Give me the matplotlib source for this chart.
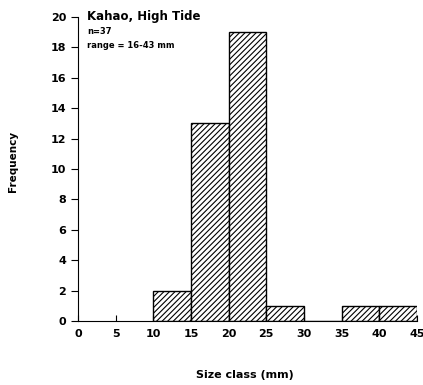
import numpy as np
import matplotlib.pyplot as plt

# size class bins (mm) and counts
bin_left = [10, 15, 20, 25, 30, 35, 40]
counts = [2, 13, 19, 1, 0, 1, 1]
bin_width = 5
xticks = [0, 5, 10, 15, 20, 25, 30, 35, 40, 45]
yticks = [0, 2, 4, 6, 8, 10, 12, 14, 16, 18, 20]

plt.rcParams['font.family'] = 'DejaVu Sans'
plt.rcParams['font.weight'] = 'bold'
plt.rcParams['hatch.linewidth'] = 0.8

fig = plt.figure(figsize=(4.23, 3.85), dpi=100)
ax = fig.add_axes([0.184, 0.166, 0.802, 0.79])

ax.bar(bin_left, counts, width=bin_width, align='edge', color='white',
       edgecolor='black', linewidth=1.0, hatch='//////')

ax.set_xlim(0, 45)
ax.set_ylim(0, 20)
ax.set_xticks(xticks)
ax.set_yticks(yticks)
ax.spines['top'].set_visible(False)
ax.spines['right'].set_visible(False)
ax.tick_params(axis='x', direction='in', length=4, labelsize=8, pad=6)
ax.tick_params(axis='y', direction='out', length=5, labelsize=8)

ax.text(1.2, 20, 'Kahao, High Tide', fontsize=8.5, fontweight='bold', va='center')
ax.text(1.2, 19.05, 'n=37', fontsize=6, fontweight='bold', va='center')
ax.text(1.2, 18.1, 'range = 16-43 mm', fontsize=6, fontweight='bold', va='center')

fig.text(0.03, 0.58, 'Frequency', rotation=90, fontsize=7.5, fontweight='bold',
         ha='center', va='center')
fig.text(0.58, 0.025, 'Size class (mm)', fontsize=8, fontweight='bold',
         ha='center', va='center')

fig.savefig('out.png', dpi=100)
